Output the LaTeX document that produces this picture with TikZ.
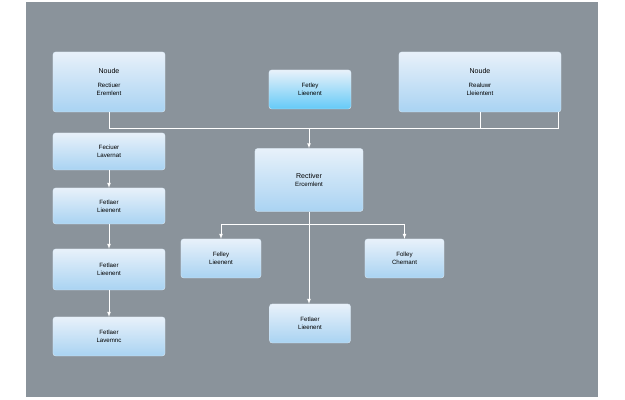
\documentclass[tikz,border=0pt]{standalone}
\usepackage{fontspec}
\setmainfont{Liberation Sans}
\usetikzlibrary{shadows}
\definecolor{panel}{HTML}{8A939B}
\definecolor{boxtop}{HTML}{E8F1FA}
\definecolor{boxbot}{HTML}{A9D3F2}
\tikzset{
  box/.style={draw=boxtop!80!boxbot,rounded corners=3pt,top color=boxtop,bottom color=boxbot,
    drop shadow={opacity=0.25,shadow xshift=0.5pt,shadow yshift=-1pt},
    align=center,font=\fontsize{7}{9}\selectfont,inner sep=0pt},
  wire/.style={draw=white,line width=0.9pt},
  arr/.style={wire,->,>=latex}
}
\begin{document}
\begin{tikzpicture}[x=0.04cm,y=-0.04cm]
\useasboundingbox (0,0) rectangle (625,400);
\fill[white] (0,0) rectangle (625,400);
\fill[panel] (26,2) rectangle (598,397);
% top row
\node[box,minimum width=4.48cm,minimum height=2.4cm] (noudeA) at (109,82)
  {{\fontsize{8}{10}\selectfont Noude}\\[6pt]Rectiuer\\Eremlent};
\node[box,minimum width=3.28cm,minimum height=1.56cm,bottom color=boxbot!85!blue!70!cyan] (fetley) at (310,89.5) {Fetley\\Lieenent};
\node[box,minimum width=6.48cm,minimum height=2.4cm] (noudeB) at (480,82)
  {{\fontsize{8}{10}\selectfont Noude}\\[6pt]Realuwr\\Lleientent};
% left column
\foreach \n/\y/\h/\t in {la/151.5/1.48/{Feciuer\\Lavernat},lb/206/1.44/{Fetlaer\\Lieenent},
  lc/269.5/1.64/{Fetlaer\\Lieenent},ld/336.5/1.56/{Fetlaer\\Lavemnc}}
  \node[box,minimum width=4.48cm,minimum height=\h cm] (\n) at (109,\y) {\t};
% middle
\node[box,minimum width=4.32cm,minimum height=2.52cm] (center) at (309,180) {\fontsize{8}{10}\selectfont Rectiver\\Ercemlent};
\node[box,minimum width=3.2cm,minimum height=1.56cm] (leftb) at (221,258.5) {Felley\\Lieenent};
\node[box,minimum width=3.16cm,minimum height=1.56cm] (rightb) at (404.5,258.5) {Folley\\Chemant};
\node[box,minimum width=3.24cm,minimum height=1.56cm] (bottom) at (310,323.5) {Fetlaer\\Lieenent};
% bus into center box
\coordinate (busL) at (109,128);
\coordinate (busR) at (558,128);
\draw[wire] (noudeA.south) -- (busL) -- (busR) -- (busR|-noudeB.south);
\draw[wire] (noudeB.south) -- (noudeB.south|-busR);
\draw[arr] (center.north|-busL) -- (center.north);
% left chain
\foreach \a/\b in {la/lb,lb/lc,lc/ld}
  \draw[arr] (\a) -- (\b);
% branches below center box
\coordinate (split) at (309,224);
\draw[wire] (leftb.north|-split) -- (rightb.north|-split);
\draw[arr] (leftb.north|-split) -- (leftb.north);
\draw[arr] (rightb.north|-split) -- (rightb.north);
\draw[arr] (center.south) -- (center.south|-bottom.north);
\end{tikzpicture}
\end{document}
